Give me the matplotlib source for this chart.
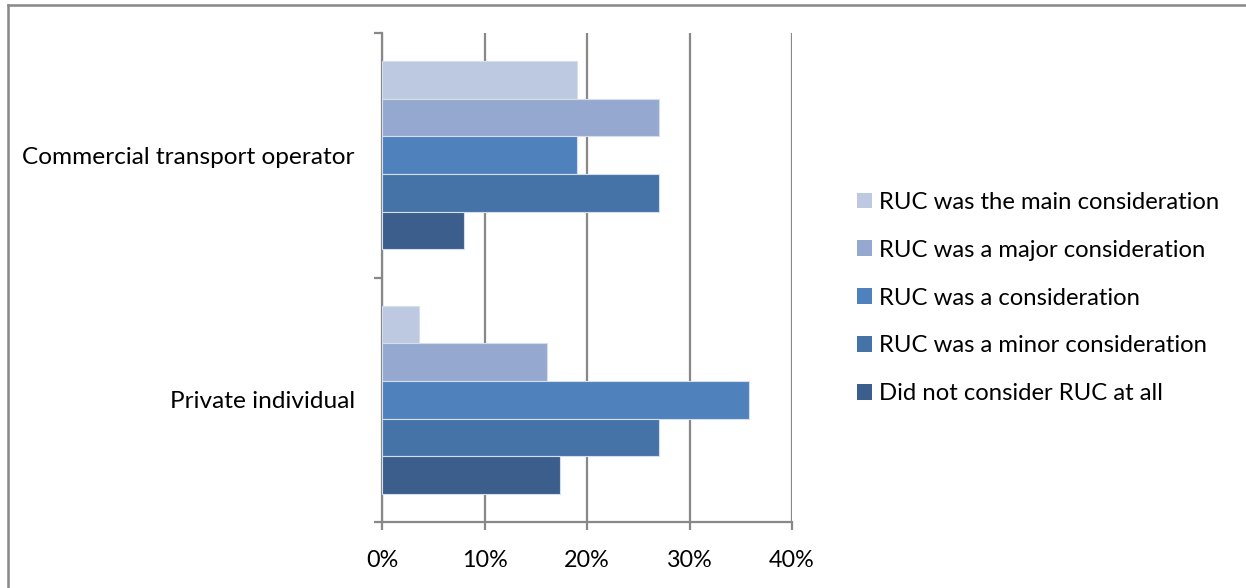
import matplotlib
matplotlib.use("Agg")
import matplotlib.pyplot as plt
from matplotlib.lines import Line2D
from matplotlib.ticker import FixedLocator, PercentFormatter
import numpy as np

plt.rcParams['font.family'] = ['Lato', 'DejaVu Sans']

categories = ["Private individual", "Commercial transport operator"]
series_names = [
    "RUC was the main consideration",
    "RUC was a major consideration",
    "RUC was a consideration",
    "RUC was a minor consideration",
    "Did not consider RUC at all",
]
# percentages per series: [Private individual, Commercial transport operator]
main_consideration = [3.6, 19]
major_consideration = [16.1, 27]
a_consideration = [35.8, 19]
minor_consideration = [27, 27]
not_considered = [17.4, 8]

series_values = [main_consideration, major_consideration, a_consideration,
                 minor_consideration, not_considered]
colors = ["#BDC9E1", "#95A9D0", "#4F81BD", "#4573A7", "#3B5E8C"]

W, H = 1246, 588
fig = plt.figure(figsize=(W / 100, H / 100), dpi=100)
ax = fig.add_axes([382 / W, 1 - 522 / H, (792 - 382) / W, (522 - 33) / H])

grid_col = "#888888"
bar_h = 0.154
centers = np.array([0.5, 1.5])
for i, (name, vals, col) in enumerate(zip(series_names, series_values, colors)):
    offset = (2 - i) * bar_h
    ax.barh(centers + offset, vals, height=bar_h, color=col,
            edgecolor="#D6DEEC", linewidth=0.8, label=name, zorder=3)

ax.set_xlim(0, 40)
ax.set_ylim(0, 2)
ax.xaxis.set_major_locator(FixedLocator([0, 10, 20, 30, 40]))
ax.xaxis.set_major_formatter(PercentFormatter(decimals=0))
ax.grid(axis="x", color=grid_col, linewidth=1.6, zorder=1)

ax.yaxis.set_major_locator(FixedLocator([0, 1, 2]))
ax.set_yticklabels([])
ax.yaxis.set_minor_locator(FixedLocator(centers))
ax.set_yticks(centers, categories, minor=True)
ax.tick_params(axis="y", which="minor", length=0, pad=19.5, labelsize=17.6)
ax.tick_params(axis="y", which="major", length=6, width=1.6, color=grid_col,
               direction="out")
ax.tick_params(axis="x", length=6, width=1.6, color=grid_col, direction="out",
               labelsize=16.8, pad=14)

for s in ["top", "right"]:
    ax.spines[s].set_visible(False)
for s in ["left", "bottom"]:
    ax.spines[s].set_color(grid_col)
    ax.spines[s].set_linewidth(1.6)

handles, labels = ax.get_legend_handles_labels()
leg = fig.legend(handles, labels, loc="center left",
                 bbox_to_anchor=(857 / W, 1 - 298 / H), frameon=False,
                 fontsize=17.2, handlelength=0.64, handleheight=0.64,
                 handletextpad=0.3, labelspacing=1.12, borderpad=0,
                 borderaxespad=0)
for p in leg.get_patches():
    p.set_edgecolor("none")

# outer chart frame (left and top edges)
fig.add_artist(Line2D([8 / W, 8 / W], [0, 1 - 5 / H], transform=fig.transFigure,
                      color="#888888", linewidth=1.8))
fig.add_artist(Line2D([8 / W, 1], [1 - 5 / H, 1 - 5 / H], transform=fig.transFigure,
                      color="#888888", linewidth=1.8))

fig.savefig("out.png", dpi=100)
